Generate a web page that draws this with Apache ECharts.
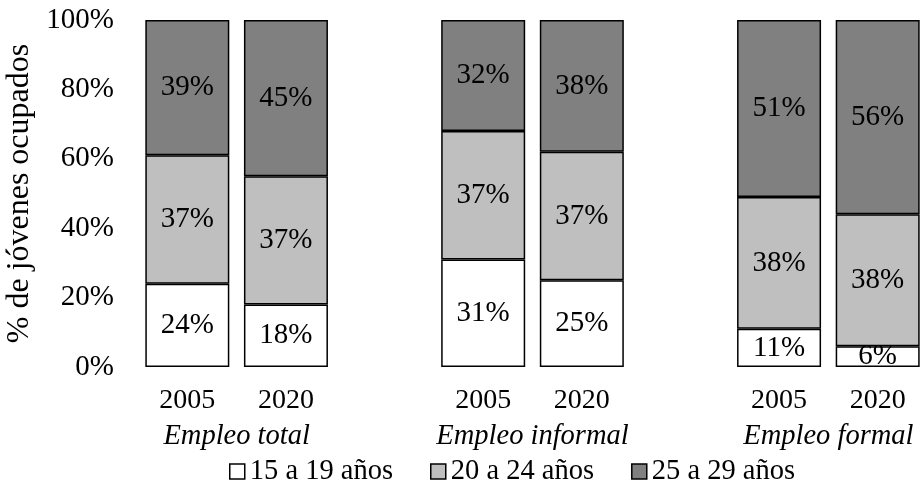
<!DOCTYPE html>
<html>
<head>
<meta charset="utf-8">
<script src="https://cdn.jsdelivr.net/npm/echarts@6/dist/echarts.min.js"></script>
<style>
  html, body { margin: 0; padding: 0; background: #fff; }
  #chart { width: 920px; height: 489px; }
</style>
</head>
<body>
<div id="chart"></div>
<script>
// Years per bar; empty slots separate the three employment groups
const years = ['2005', '2020', '', '2005', '2020', '', '2005', '2020'];
const groups = ['Empleo total', 'Empleo informal', 'Empleo formal'];
const groupCenters = [1, 4, 7];
const ageNames = ['15 a 19 años', '20 a 24 años', '25 a 29 años'];
const age15to19 = [24, 18, null, 31, 25, null, 11, 6];
const age20to24 = [37, 37, null, 37, 37, null, 38, 38];
const age25to29 = [39, 45, null, 32, 38, null, 51, 56];
const yTicks = [0, 20, 40, 60, 80, 100];

const FONT = '"Liberation Serif", "Times New Roman", serif';
const FS = 29;
const colors = ['#ffffff', '#bfbfbf', '#808080'];
const seriesData = [age15to19, age20to24, age25to29];

const chart = echarts.init(document.getElementById('chart'));
chart.setOption({
  animation: false,
  textStyle: { fontFamily: FONT, color: '#000' },
  grid: { left: 138, top: 20, width: 789, bottom: 122, outerBoundsMode: 'none', containLabel: false },
  legend: {
    left: 224, top: 452,
    icon: 'rect', itemWidth: 15, itemHeight: 15, itemGap: 37, itemTextGap: 7,
    textStyle: { fontFamily: FONT, fontSize: 28.5, color: '#000' },
    itemStyle: { borderColor: '#000', borderWidth: 1.5 },
    data: ageNames
  },
  xAxis: [
    {
      type: 'category', data: years,
      axisLine: { show: false }, axisTick: { show: false },
      axisLabel: { fontFamily: FONT, fontSize: 28, color: '#000', margin: 20, interval: 0 }
    },
    {
      type: 'value', min: 0, max: 8, interval: 1, position: 'bottom', offset: 35,
      axisLine: { show: false }, axisTick: { show: false }, splitLine: { show: false },
      axisLabel: {
        fontFamily: FONT, fontSize: 28.5, fontStyle: 'italic', color: '#000', margin: 20,
        showMinLabel: true, showMaxLabel: true,
        formatter: v => { const i = groupCenters.indexOf(v); return i >= 0 ? groups[i] : ''; }
      }
    }
  ],
  yAxis: {
    type: 'value', min: yTicks[0], max: yTicks[yTicks.length - 1], interval: 20,
    name: '% de jóvenes ocupados', nameLocation: 'middle', nameGap: 96, nameRotate: 90,
    nameTextStyle: { fontFamily: FONT, fontSize: 32, color: '#000' },
    axisLine: { show: false }, axisTick: { show: false }, splitLine: { show: false },
    axisLabel: { fontFamily: FONT, fontSize: FS, color: '#000', margin: 24, formatter: '{value}%' }
  },
  series: ageNames.map((name, i) => ({
    name, type: 'bar', stack: 'total', xAxisIndex: 0,
    barWidth: 84,
    data: seriesData[i],
    itemStyle: { color: colors[i], borderColor: '#000', borderWidth: 1.5 },
    label: {
      show: true, position: 'inside', fontFamily: FONT, fontSize: FS, color: '#000',
      formatter: p => p.value == null ? '' : p.value + '%'
    }
  }))
});
</script>
</body>
</html>
